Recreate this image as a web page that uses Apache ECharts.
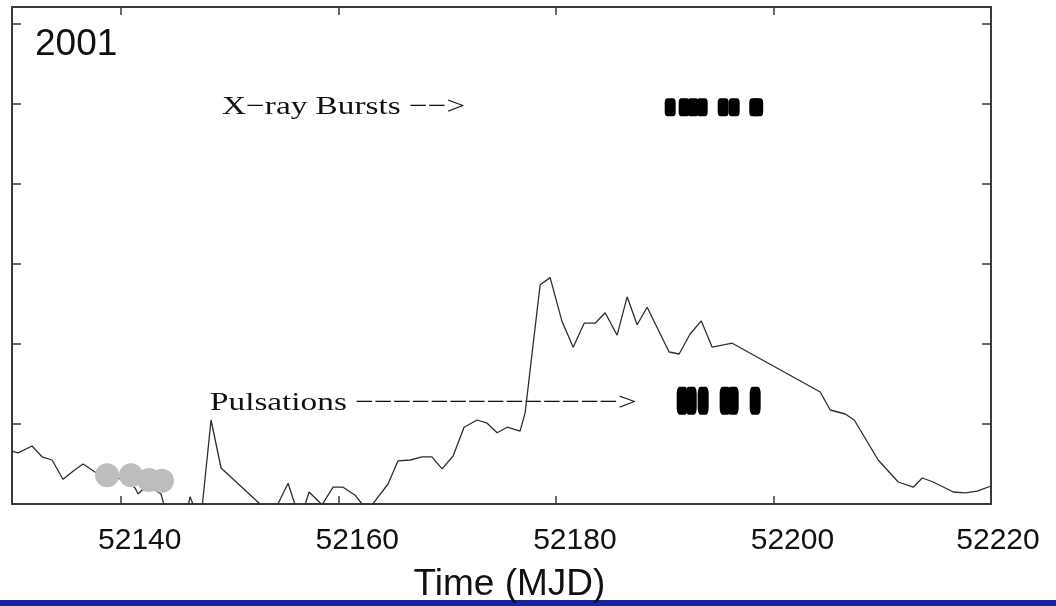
<!DOCTYPE html>
<html>
<head>
<meta charset="utf-8">
<title>2001 outburst light curve</title>
<script src="https://cdn.jsdelivr.net/npm/echarts@6/dist/echarts.min.js"></script>
<style>
  html, body { margin: 0; padding: 0; background: #ffffff; }
  #chart { width: 1056px; height: 606px; }
</style>
</head>
<body>
<div id="chart"></div>
<script>
// Light curve (MJD, relative flux in tick units); points below 0 are clipped by the axis
const lightCurveMjd = [
  52130.0, 52130.55, 52131.84, 52132.76, 52133.68, 52134.69, 52135.61, 52136.53, 52137.63,
  52138.64, 52139.66, 52140.57, 52141.31, 52141.59, 52141.95, 52142.87, 52143.70, 52144.34,
  52145.9, 52146.37, 52146.92, 52147.47, 52148.30, 52149.22, 52152.80, 52153.9, 52155.38,
  52156.02, 52156.5, 52156.94, 52157.31, 52158.5, 52159.52, 52160.44, 52161.54, 52162.18,
  52162.6, 52163.10, 52164.57, 52165.49, 52166.6, 52167.7, 52168.6, 52169.54, 52170.55,
  52171.56, 52172.76, 52173.68, 52174.6, 52175.52, 52176.71, 52177.17, 52178.55, 52179.47,
  52180.57, 52181.59, 52182.6, 52183.61, 52184.53, 52185.63, 52186.55, 52187.47, 52188.39,
  52190.41, 52191.33, 52192.34, 52193.36, 52194.37, 52196.21, 52204.3, 52205.22, 52206.6,
  52207.43, 52209.63, 52211.47, 52212.85, 52213.68, 52214.69, 52216.53, 52217.63, 52218.74,
  52220.0
];
const lightCurveFlux = [
  0.66, 0.64, 0.725, 0.59, 0.55, 0.31, 0.41, 0.50, 0.40,
  0.35, 0.33, 0.28, 0.20, 0.125, 0.175, 0.20, 0.125, -0.2,
  -0.2, 0.09, -0.1, -0.05, 1.05, 0.45, 0.0, -0.15, 0.26,
  -0.01, -0.15, -0.01, 0.15, -0.01, 0.21, 0.21, 0.11, 0.0,
  -0.1, -0.01, 0.25, 0.54, 0.55, 0.59, 0.59, 0.44, 0.60,
  0.96, 1.05, 1.01, 0.89, 0.96, 0.91, 1.14, 2.74, 2.83,
  2.28, 1.96, 2.26, 2.26, 2.39, 2.11, 2.59, 2.24, 2.46,
  1.90, 1.875, 2.125, 2.29, 1.96, 2.01, 1.40, 1.175, 1.125,
  1.05, 0.55, 0.275, 0.21, 0.325, 0.275, 0.15, 0.14, 0.16,
  0.225
];

// Epochs of detected X-ray bursts and of pulsation detections
const burstMjd = [52190.51, 52191.79, 52192.62, 52193.45, 52195.38, 52196.39, 52198.28, 52198.55];
const burstLevel = 4.96;
const pulsationMjd = [52191.61, 52192.44, 52193.54, 52195.56, 52196.30, 52198.32];
const pulsationLevel = 1.29;

// Grey markers near the start of the window
const greyMjd = [52138.74, 52140.94, 52142.60, 52143.79];
const greyFlux = [0.36, 0.36, 0.30, 0.29];

// Axis ticks
const xTicks = [52140, 52160, 52180, 52200, 52220];
const yTicks = [1, 2, 3, 4, 5, 6];
const xRange = [52130, 52220];
const yRange = [0, 6.2125];

const zip = (xs, ys) => xs.map((x, i) => [x, ys[i]]);

const frameColor = '#3a3a3a';
const labelFont = "'Liberation Sans', Arial, sans-serif";
const serifFont = "'Liberation Serif', 'Times New Roman', serif";
const MINUS = '\u2212';

const chart = echarts.init(document.getElementById('chart'), null, { renderer: 'canvas' });

const axisCommon = {
  type: 'value',
  splitLine: { show: false },
  axisLine: { show: true, onZero: false, lineStyle: { color: frameColor, width: 2 } },
};

// Serif annotation text, slightly widened like the original lettering
function annotation(x, y, text) {
  return {
    type: 'text', x: x, y: y, scaleX: 1.28, scaleY: 1,
    style: { text: text, fontFamily: serifFont, fontSize: 26, fill: '#111', textVerticalAlign: 'top' }
  };
}

chart.setOption({
  animation: false,
  backgroundColor: '#ffffff',
  grid: { left: 12, right: 65, top: 7, bottom: 102, containLabel: false, outerBoundsMode: 'none' },
  xAxis: [
    Object.assign({}, axisCommon, {
      position: 'bottom',
      min: xRange[0], max: xRange[1],
      name: 'Time (MJD)',
      nameLocation: 'middle',
      nameGap: 62,
      nameTextStyle: { fontFamily: labelFont, fontSize: 37, color: '#111', padding: [0, 0, 0, 16] },
      axisTick: { show: true, inside: true, length: 8, customValues: xTicks, lineStyle: { color: frameColor, width: 1.5 } },
      axisLabel: {
        show: true,
        customValues: xTicks,
        margin: 22,
        fontFamily: labelFont,
        fontSize: 30,
        color: '#111',
        formatter: v => (v === 52220 ? '{e|' + v + '}' : '{n|' + v + '}'),
        rich: {
          n: { fontFamily: labelFont, fontSize: 30, color: '#111', padding: [0, 0, 0, 38] },
          e: { fontFamily: labelFont, fontSize: 30, color: '#111', padding: [0, 0, 0, 14] }
        }
      }
    }),
    Object.assign({}, axisCommon, {
      position: 'top',
      min: xRange[0], max: xRange[1],
      axisTick: { show: true, inside: true, length: 8, customValues: xTicks, lineStyle: { color: frameColor, width: 1.5 } },
      axisLabel: { show: false }
    })
  ],
  yAxis: [
    Object.assign({}, axisCommon, {
      position: 'left',
      min: yRange[0], max: yRange[1],
      axisTick: { show: true, inside: true, length: 9, customValues: yTicks, lineStyle: { color: frameColor, width: 1.5 } },
      axisLabel: { show: false }
    }),
    Object.assign({}, axisCommon, {
      position: 'right',
      min: yRange[0], max: yRange[1],
      axisTick: { show: true, inside: true, length: 9, customValues: yTicks, lineStyle: { color: frameColor, width: 1.5 } },
      axisLabel: { show: false }
    })
  ],
  series: [
    {
      name: 'Light curve',
      type: 'line',
      data: zip(lightCurveMjd, lightCurveFlux),
      showSymbol: false,
      clip: true,
      lineStyle: { color: '#2e2e2e', width: 1.3 },
      z: 2
    },
    {
      name: 'Early detections',
      type: 'scatter',
      data: zip(greyMjd, greyFlux),
      symbol: 'circle',
      symbolSize: 24,
      itemStyle: { color: '#bdbdbd', opacity: 1 },
      z: 3
    },
    {
      name: 'X-ray Bursts',
      type: 'scatter',
      data: burstMjd.map(x => [x, burstLevel]),
      symbol: 'roundRect',
      symbolSize: [11, 18],
      itemStyle: { color: '#000000', opacity: 1 },
      z: 4
    },
    {
      name: 'Pulsations',
      type: 'scatter',
      data: pulsationMjd.map(x => [x, pulsationLevel]),
      symbol: 'roundRect',
      symbolSize: [11, 28],
      itemStyle: { color: '#000000', opacity: 1 },
      z: 4
    }
  ],
  graphic: [
    {
      type: 'text', left: 35, top: 26,
      style: { text: '2001', fontFamily: labelFont, fontSize: 37, fill: '#111' }
    },
    annotation(222, 94, 'X' + MINUS + 'ray Bursts ' + MINUS + MINUS + '>'),
    annotation(210, 390, 'Pulsations ' + MINUS.repeat(14) + '>'),
    {
      type: 'rect', left: 0, bottom: 0,
      shape: { width: 1056, height: 6 },
      style: { fill: '#1a249a' }
    }
  ]
});
</script>
</body>
</html>
